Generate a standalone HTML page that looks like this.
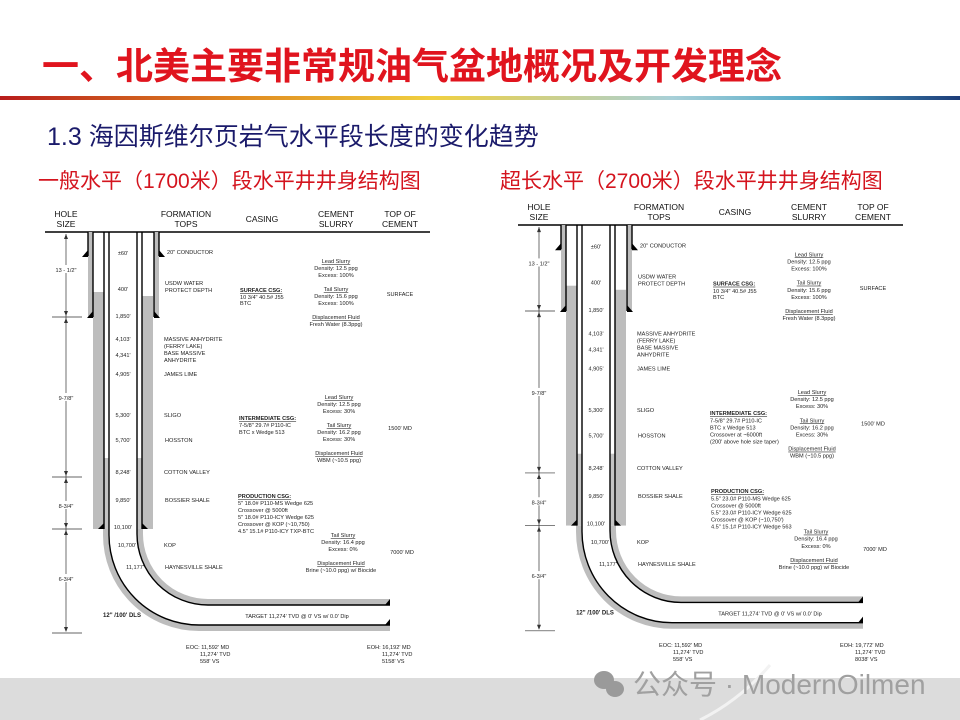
<!DOCTYPE html>
<html><head><meta charset="utf-8"><style>
html,body{margin:0;padding:0;background:#fff;}
svg{display:block;}
.t{font-family:"Liberation Sans",sans-serif;fill:#222;}
.s{font-size:5.6px;}
.h{font-size:8.5px;fill:#111;}
.c{text-anchor:middle;}
.u{text-decoration:underline;}
</style></head><body>
<svg width="960" height="720" viewBox="0 0 960 720" xmlns="http://www.w3.org/2000/svg">
<defs>
<linearGradient id="gr" x1="0" x2="1" y1="0" y2="0">
<stop offset="0" stop-color="#b81c1c"/><stop offset="0.25" stop-color="#e08a20"/><stop offset="0.45" stop-color="#f0d040"/><stop offset="0.7" stop-color="#a8d0d8"/><stop offset="0.85" stop-color="#50a8c8"/><stop offset="1" stop-color="#1c3c78"/>
</linearGradient>
<g id="well">
<line x1="45" y1="232" x2="430" y2="232" stroke="#000" stroke-width="1.5"/>
<rect x="88" y="232" width="5" height="85" fill="#bdbdbd"/>
<rect x="154" y="232" width="5" height="85" fill="#bdbdbd"/>
<rect x="93" y="292" width="11" height="237" fill="#bdbdbd"/>
<rect x="142" y="296" width="11" height="233" fill="#bdbdbd"/>
<rect x="104" y="458" width="5" height="71" fill="#c4c4c4"/>
<rect x="137" y="458" width="5" height="71" fill="#c4c4c4"/>
<path d="M106,529 V535 A93,93 0 0 0 199,628 H390" fill="none" stroke="#bdbdbd" stroke-width="6"/>
<path d="M140,529 V534 A68,68 0 0 0 208,602 H390" fill="none" stroke="#bdbdbd" stroke-width="6"/>
<g stroke="#000" stroke-width="1.4" fill="none">
<line x1="88" y1="232" x2="88" y2="256"/><line x1="159" y1="232" x2="159" y2="256"/>
<line x1="93" y1="232" x2="93" y2="317"/><line x1="154" y1="232" x2="154" y2="317"/>
<line x1="104" y1="232" x2="104" y2="529"/><line x1="142" y1="232" x2="142" y2="529"/>
<path d="M109,232 V535 A90,90 0 0 0 199,625 H390"/>
<path d="M137,232 V534 A71,71 0 0 0 208,605 H390"/>
</g>
<g fill="#000">
<polygon points="88,250 88,257 82,257"/><polygon points="159,250 159,257 165,257"/>
<polygon points="93,311 93,318 87,318"/><polygon points="154,311 154,318 160,318"/>
<polygon points="104,523 104,529 98,529"/><polygon points="142,523 142,529 148,529"/>
<polygon points="390,619 390,625 385,625"/><polygon points="390,599 390,605 385,605"/>
</g>
<g stroke="#333" stroke-width="0.7">
<line x1="66" y1="234" x2="66" y2="631"/>
<line x1="52" y1="317" x2="82" y2="317"/>
<line x1="52" y1="477" x2="82" y2="477"/>
<line x1="52" y1="529" x2="82" y2="529"/>
<line x1="52" y1="633" x2="82" y2="633"/>
</g>
<g fill="#333">
<polygon points="66,234 64,239 68,239"/><polygon points="66,316 64,311 68,311"/>
<polygon points="66,318 64,323 68,323"/><polygon points="66,476 64,471 68,471"/>
<polygon points="66,478 64,483 68,483"/><polygon points="66,528 64,523 68,523"/>
<polygon points="66,530 64,535 68,535"/><polygon points="66,632 64,627 68,627"/>
</g>
<rect x="56" y="265" width="20" height="8" fill="#fff"/>
<rect x="56" y="393" width="20" height="8" fill="#fff"/>
<rect x="56" y="501" width="20" height="8" fill="#fff"/>
<rect x="56" y="574" width="20" height="8" fill="#fff"/>
<g class="t s c">
<text x="66" y="272">13 - 1/2"</text><text x="66" y="400">9-7/8"</text>
<text x="66" y="508">8-3/4"</text><text x="66" y="581">6-3/4"</text>
</g>
<g class="t h c">
<text x="66" y="217">HOLE</text><text x="66" y="227">SIZE</text>
<text x="186" y="217">FORMATION</text><text x="186" y="227">TOPS</text>
<text x="262" y="222">CASING</text>
<text x="336" y="217">CEMENT</text><text x="336" y="227">SLURRY</text>
<text x="400" y="217">TOP OF</text><text x="400" y="227">CEMENT</text>
</g>
<g class="t s c">
<text x="123" y="255">±60'</text><text x="123" y="291">400'</text><text x="123" y="318">1,850'</text>
<text x="123" y="341">4,103'</text><text x="123" y="357">4,341'</text><text x="123" y="376">4,905'</text>
<text x="123" y="417">5,300'</text><text x="123" y="442">5,700'</text><text x="123" y="474">8,248'</text>
<text x="123" y="502">9,850'</text><text x="123" y="529">10,100'</text><text x="127" y="547">10,700'</text>
<text x="135" y="569">11,177'</text>
</g>
<g class="t s">
<text x="167" y="254">20" CONDUCTOR</text>
<text x="165" y="285">USDW WATER</text><text x="165" y="292">PROTECT DEPTH</text>
<text x="164" y="341">MASSIVE ANHYDRITE</text><text x="164" y="348">(FERRY LAKE)</text>
<text x="164" y="355">BASE MASSIVE</text><text x="164" y="362">ANHYDRITE</text>
<text x="164" y="376">JAMES LIME</text><text x="164" y="417">SLIGO</text>
<text x="165" y="442">HOSSTON</text><text x="164" y="474">COTTON VALLEY</text>
<text x="165" y="502">BOSSIER SHALE</text><text x="164" y="547">KOP</text>
<text x="165" y="569">HAYNESVILLE SHALE</text>
</g>
<g class="t s c">
<text x="336" y="263" class="u">Lead Slurry</text><text x="336" y="270">Density: 12.5 ppg</text><text x="336" y="277">Excess: 100%</text>
<text x="336" y="291" class="u">Tail Slurry</text><text x="336" y="298">Density: 15.6 ppg</text><text x="336" y="305">Excess: 100%</text>
<text x="336" y="319" class="u">Displacement Fluid</text><text x="336" y="326">Fresh Water (8.3ppg)</text>
<text x="400" y="296">SURFACE</text>
</g>
<text x="122" y="617" class="t" style="font-size:6px;font-weight:bold" text-anchor="middle">12" /100' DLS</text>
</g>
</defs>

<text x="42" y="79" font-family="'Liberation Sans','Noto Sans CJK SC',sans-serif" font-size="37" font-weight="bold" fill="#e0141e">一、北美主要非常规油气盆地概况及开发理念</text>
<rect x="0" y="96" width="960" height="4" fill="url(#gr)"/>
<text x="47" y="145" font-family="'Liberation Sans','Noto Sans CJK SC',sans-serif" font-size="25" fill="#1a1a6a">1.3 海因斯维尔页岩气水平段长度的变化趋势</text>
<text x="38" y="188" font-family="'Liberation Sans','Noto Sans CJK SC',sans-serif" font-size="21" fill="#d4141e">一般水平（1700米）段水平井井身结构图</text>
<text x="500" y="188" font-family="'Liberation Sans','Noto Sans CJK SC',sans-serif" font-size="21" fill="#d4141e">超长水平（2700米）段水平井井身结构图</text>

<use href="#well"/>
<g class="t s">
<text x="240" y="292" class="u" font-weight="bold">SURFACE CSG:</text><text x="240" y="299">10 3/4" 40.5# J55</text><text x="240" y="305">BTC</text>
<text x="239" y="420" class="u" font-weight="bold">INTERMEDIATE CSG:</text><text x="239" y="427">7-5/8" 29.7# P110-IC</text><text x="239" y="434">BTC x Wedge 513</text>
<text x="238" y="498" class="u" font-weight="bold">PRODUCTION CSG:</text><text x="238" y="505">5" 18.0# P110-MS Wedge 625</text><text x="238" y="512">Crossover @ 5000ft</text><text x="238" y="519">5" 18.0# P110-ICY Wedge 625</text><text x="238" y="526">Crossover @ KOP (~10,750)</text><text x="238" y="533">4.5" 15.1# P110-ICY TXP-BTC</text>
</g>
<g class="t s c">
<text x="339" y="399" class="u">Lead Slurry</text><text x="339" y="406">Density: 12.5 ppg</text><text x="339" y="413">Excess: 30%</text>
<text x="339" y="427" class="u">Tail Slurry</text><text x="339" y="434">Density: 16.2 ppg</text><text x="339" y="441">Excess: 30%</text>
<text x="339" y="455" class="u">Displacement Fluid</text><text x="339" y="462">WBM (~10.5 ppg)</text>
<text x="343" y="537" class="u">Tail Slurry</text><text x="343" y="544">Density: 16.4 ppg</text><text x="343" y="551">Excess: 0%</text>
<text x="341" y="565" class="u">Displacement Fluid</text><text x="341" y="572">Brine (~10.0 ppg) w/ Biocide</text>
<text x="400" y="430">1500' MD</text><text x="402" y="554">7000' MD</text>
<text x="297" y="618">TARGET 11,274' TVD @ 0' VS w/ 0.0' Dip</text>
</g>
<g class="t s">
<text x="186" y="649">EOC: 11,592' MD</text><text x="200" y="656">11,274' TVD</text><text x="200" y="663">558' VS</text>
<text x="367" y="649">EOH: 16,192' MD</text><text x="382" y="656">11,274' TVD</text><text x="382" y="663">5158' VS</text>
</g>

<g transform="translate(473,225) scale(1,1.012) translate(0,-232)">
<use href="#well"/>
<g class="t s">
<text x="240" y="292" class="u" font-weight="bold">SURFACE CSG:</text><text x="240" y="299">10 3/4" 40.5# J55</text><text x="240" y="305">BTC</text>
<text x="237" y="420" class="u" font-weight="bold">INTERMEDIATE CSG:</text><text x="237" y="427">7-5/8" 29.7# P110-IC</text><text x="237" y="434">BTC x Wedge 513</text><text x="237" y="441">Crossover at ~6000ft</text><text x="237" y="448">(200' above hole size taper)</text>
<text x="238" y="497" class="u" font-weight="bold">PRODUCTION CSG:</text><text x="238" y="504">5.5" 23.0# P110-MS Wedge 625</text><text x="238" y="511">Crossover @ 5000ft</text><text x="238" y="518">5.5" 23.0# P110-ICY Wedge 625</text><text x="238" y="525">Crossover @ KOP (~10,750')</text><text x="238" y="532">4.5" 15.1# P110-ICY Wedge 563</text>
</g>
<g class="t s c">
<text x="339" y="399" class="u">Lead Slurry</text><text x="339" y="406">Density: 12.5 ppg</text><text x="339" y="413">Excess: 30%</text>
<text x="339" y="427" class="u">Tail Slurry</text><text x="339" y="434">Density: 16.2 ppg</text><text x="339" y="441">Excess: 30%</text>
<text x="339" y="455" class="u">Displacement Fluid</text><text x="339" y="462">WBM (~10.5 ppg)</text>
<text x="343" y="537" class="u">Tail Slurry</text><text x="343" y="544">Density: 16.4 ppg</text><text x="343" y="551">Excess: 0%</text>
<text x="341" y="565" class="u">Displacement Fluid</text><text x="341" y="572">Brine (~10.0 ppg) w/ Biocide</text>
<text x="400" y="430">1500' MD</text><text x="402" y="554">7000' MD</text>
<text x="297" y="618">TARGET 11,274' TVD @ 0' VS w/ 0.0' Dip</text>
</g>
<g class="t s">
<text x="186" y="649">EOC: 11,592' MD</text><text x="200" y="656">11,274' TVD</text><text x="200" y="663">558' VS</text>
<text x="367" y="649">EOH: 19,772' MD</text><text x="382" y="656">11,274' TVD</text><text x="382" y="663">8038' VS</text>
</g>
</g>

<rect x="0" y="678" width="960" height="42" fill="#dcdcdc"/>
<path d="M700,720 Q740,700 770,665" stroke="#f2f2f2" stroke-width="3" fill="none"/>
<g fill="#9a9a9a">
<ellipse cx="604" cy="680" rx="10" ry="9"/><ellipse cx="615" cy="689" rx="9" ry="8"/>
</g>
<text x="633" y="694" font-family="'Liberation Sans','Noto Sans CJK SC',sans-serif" font-size="28" fill="#a0a0a0">公众号 · ModernOilmen</text>
</svg>
</body></html>
